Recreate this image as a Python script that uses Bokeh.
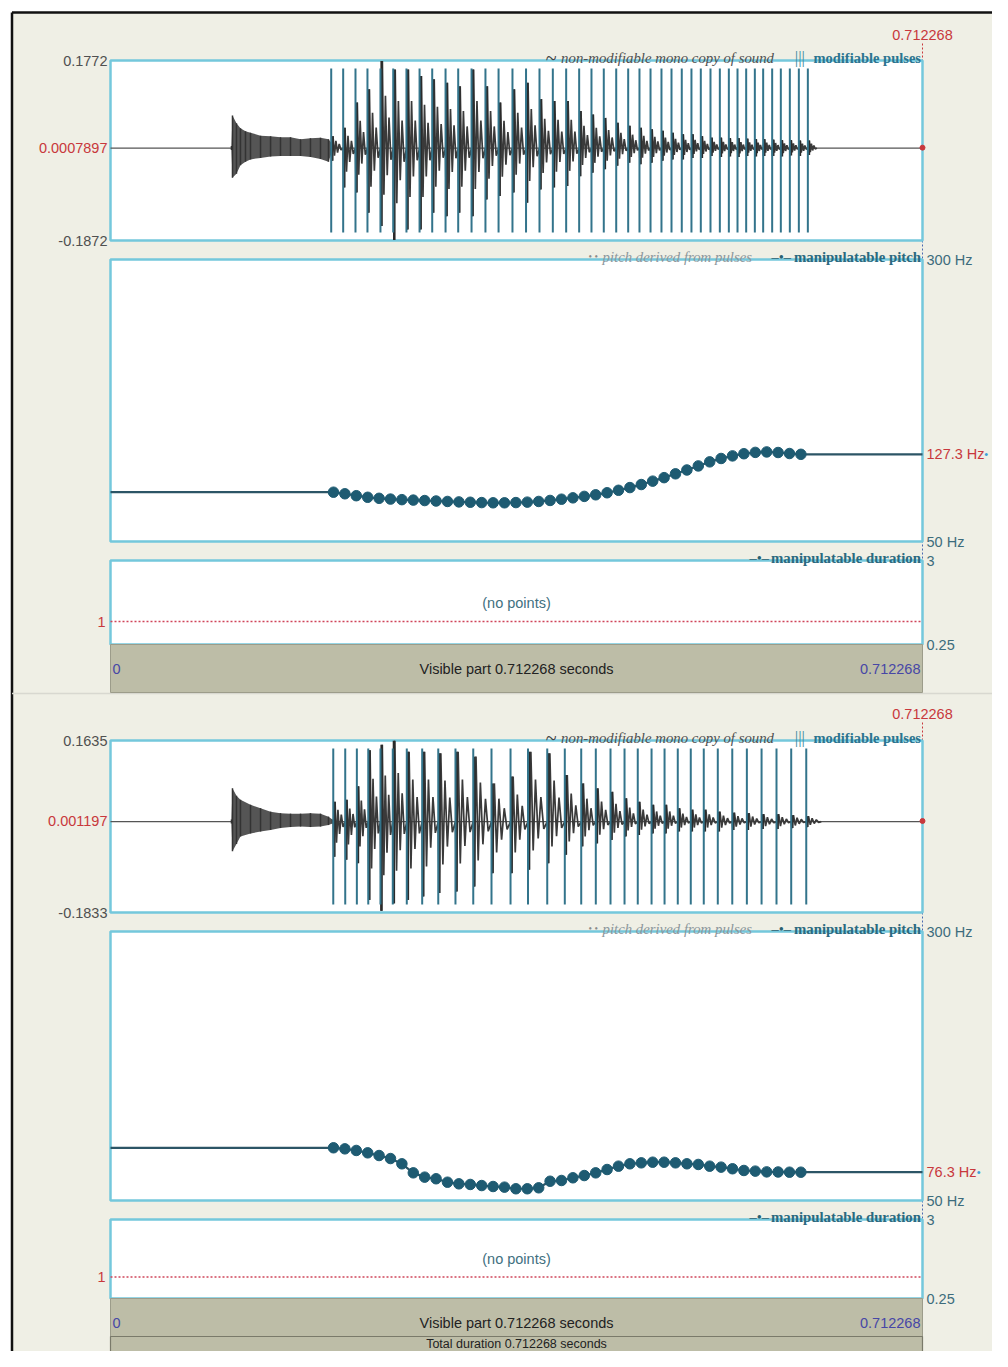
from bokeh.plotting import figure
from bokeh.models import Range1d
from bokeh.core.properties import value
from bokeh.embed import file_html
from bokeh.resources import INLINE

# ---------------- data ----------------
TOTAL = 0.712268          # seconds, visible part / total duration
CURSOR = 0.712268

wave1_ticks = [0.1772, 0.0007897, -0.1872]   # top, cursor value, bottom
wave2_ticks = [0.1635, 0.001197, -0.1833]
pitch_ticks = [300, 50]                       # Hz, top / bottom
dur_ticks = [3, 0.25]
dur_line = 1
pitch1_label = 127.3
pitch2_label = 76.3

# noise burst before voicing (envelope: time s, max, min)
burst1_t = [0.1061, 0.1070, 0.1105, 0.1140, 0.1184, 0.1228, 0.1316, 0.1404, 0.1491,
            0.1579, 0.1667, 0.1754, 0.1842, 0.1912, 0.1939]
burst1_hi = [0.004, 0.066, 0.050, 0.040, 0.034, 0.031, 0.025, 0.024, 0.022,
             0.022, 0.018, 0.020, 0.021, 0.018, 0.010]
burst1_lo = [-0.004, -0.060, -0.052, -0.035, -0.028, -0.023, -0.020, -0.017, -0.016,
             -0.016, -0.016, -0.018, -0.022, -0.028, -0.010]

burst2_t = [0.1061, 0.1070, 0.1105, 0.1140, 0.1228, 0.1316, 0.1404, 0.1491,
            0.1579, 0.1667, 0.1754, 0.1842, 0.1912, 0.1947]
burst2_hi = [0.004, 0.067, 0.052, 0.044, 0.034, 0.027, 0.020, 0.017,
             0.016, 0.016, 0.017, 0.016, 0.010, 0.004]
burst2_lo = [-0.004, -0.060, -0.045, -0.030, -0.024, -0.020, -0.017, -0.013,
             -0.011, -0.010, -0.011, -0.010, -0.007, -0.004]

# modifiable pulses (time s) with the waveform's max / min around each pulse
pulse1_t = [0.1936, 0.2041, 0.2149, 0.2254, 0.2368, 0.2480, 0.2596, 0.2711, 0.2822, 0.2939,
            0.3050, 0.3167, 0.3289, 0.3404, 0.3526, 0.3645, 0.3763, 0.3880, 0.3997, 0.4111,
            0.4219, 0.4327, 0.4436, 0.4541, 0.4640, 0.4737, 0.4833, 0.4921, 0.5011, 0.5096,
            0.5178, 0.5263, 0.5345, 0.5424, 0.5500, 0.5576, 0.5652, 0.5725, 0.5804, 0.5880,
            0.5959, 0.6038, 0.6117]
pulse1_hi = [0.024, 0.041, 0.092, 0.119, 0.176, 0.159, 0.159, 0.146, 0.139, 0.132,
             0.125, 0.159, 0.125, 0.092, 0.119, 0.132, 0.099, 0.095, 0.095, 0.075,
             0.068, 0.061, 0.051, 0.045, 0.041, 0.038, 0.035, 0.031, 0.028, 0.028,
             0.024, 0.021, 0.021, 0.020, 0.020, 0.019, 0.018, 0.018, 0.017, 0.016,
             0.016, 0.015, 0.015]
pulse1_lo = [-0.026, -0.080, -0.090, -0.131, -0.158, -0.186, -0.165, -0.165, -0.131, -0.138,
             -0.131, -0.138, -0.104, -0.097, -0.090, -0.111, -0.084, -0.080, -0.077, -0.057,
             -0.050, -0.043, -0.036, -0.030, -0.033, -0.030, -0.026, -0.023, -0.023, -0.020,
             -0.020, -0.016, -0.018, -0.017, -0.018, -0.016, -0.017, -0.016, -0.016, -0.017,
             -0.015, -0.016, -0.014]

pulse2_t = [0.1954, 0.2059, 0.2161, 0.2261, 0.2368, 0.2476, 0.2599, 0.2734, 0.2875, 0.3026,
            0.3182, 0.3342, 0.3509, 0.3662, 0.3831, 0.3985, 0.4129, 0.4257, 0.4386, 0.4509,
            0.4625, 0.4746, 0.4860, 0.4976, 0.5090, 0.5204, 0.5327, 0.5454, 0.5582, 0.5711,
            0.5842, 0.5971, 0.6103]
pulse2_hi = [0.040, 0.044, 0.071, 0.144, 0.155, 0.163, 0.141, 0.141, 0.138, 0.141,
             0.131, 0.077, 0.091, 0.141, 0.138, 0.094, 0.077, 0.067, 0.060, 0.047,
             0.040, 0.034, 0.034, 0.027, 0.024, 0.024, 0.020, 0.018, 0.017, 0.015,
             0.015, 0.013, 0.011]
pulse2_lo = [-0.071, -0.077, -0.084, -0.158, -0.180, -0.165, -0.158, -0.151, -0.144, -0.141,
             -0.131, -0.104, -0.104, -0.097, -0.084, -0.067, -0.050, -0.044, -0.037, -0.030,
             -0.027, -0.024, -0.024, -0.020, -0.020, -0.020, -0.020, -0.017, -0.017, -0.015,
             -0.015, -0.013, -0.011]

# manipulatable pitch points (every 10 ms)
pitch_t = [0.1956, 0.2056, 0.2156, 0.2256, 0.2356, 0.2456, 0.2556, 0.2656, 0.2756, 0.2856,
           0.2956, 0.3056, 0.3156, 0.3256, 0.3356, 0.3456, 0.3556, 0.3656, 0.3756, 0.3856,
           0.3956, 0.4056, 0.4156, 0.4256, 0.4356, 0.4456, 0.4556, 0.4656, 0.4756, 0.4856,
           0.4956, 0.5056, 0.5156, 0.5256, 0.5356, 0.5456, 0.5556, 0.5656, 0.5756, 0.5856,
           0.5956, 0.6056]
pitch1_hz = [93.7, 92.3, 90.6, 89.2, 88.3, 87.6, 87.1, 86.7, 86.3, 85.9,
             85.5, 85.1, 84.8, 84.5, 84.3, 84.3, 84.5, 84.9, 85.5, 86.4,
             87.5, 88.7, 90.0, 91.4, 93.2, 95.4, 97.8, 100.5, 103.5, 106.6,
             110.0, 113.4, 117.0, 120.6, 123.6, 125.9, 127.8, 129.0, 129.4, 128.9,
             128.0, 127.3]
pitch2_hz = [99.0, 98.0, 96.5, 94.3, 91.8, 89.0, 84.1, 75.7, 71.7, 70.2,
             67.0, 65.5, 64.9, 63.9, 63.0, 62.4, 60.9, 60.9, 61.8, 67.9,
             68.6, 71.1, 73.2, 75.7, 78.8, 81.9, 84.1, 85.0, 85.6, 85.6,
             85.0, 84.1, 83.5, 81.9, 81.0, 79.5, 77.9, 77.3, 76.6, 76.5,
             76.3, 76.3]

# ---------------- layout (reference pixel positions) ----------------
W, H = 992, 1351
PX_L, PX_R = 110, 922
LAYOUT = [
    dict(cur_y=34, wave=(60, 240), pitch=(259, 541), dur=(560, 644), bar=(644, 692)),
    dict(cur_y=713, wave=(740, 912), pitch=(931, 1200), dur=(1219, 1298), bar=(1298, 1336)),
]
# shape of the drawn oscillation within one pitch period (style only)
RING_FR = [0.0, 0.05, 0.15, 0.27, 0.39, 0.53, 0.67, 0.82]
RING_GAIN = [0.0, 1.0, 1.0, 0.6, 0.6, 0.35, 0.35, 0.15]

SANS = value("Liberation Sans")
SERIF = value("Liberation Serif")
BG = "#efefe5"
CYAN = "#74c8dc"
TEAL = "#33748b"
RED = "#c8383c"
BLUE = "#4747a6"
LBL = "#3d6c7c"
BAR = "#bdbda7"

spp = TOTAL / (PX_R - PX_L)
t_range = Range1d(-PX_L * spp, TOTAL + (W - PX_R) * spp)


def band(top, bot, vtop, vbot):
    s = (vtop - vbot) / (bot - top)
    return Range1d(vbot - (H - bot) * s, vtop + top * s)


editors = [
    dict(wave=wave1_ticks, bt=burst1_t, bh=burst1_hi, bl=burst1_lo,
         pt=pulse1_t, ph=pulse1_hi, pl=pulse1_lo, hz=pitch1_hz, lab=pitch1_label),
    dict(wave=wave2_ticks, bt=burst2_t, bh=burst2_hi, bl=burst2_lo,
         pt=pulse2_t, ph=pulse2_hi, pl=pulse2_lo, hz=pitch2_hz, lab=pitch2_label),
]

yranges = {}
for i, (L, E) in enumerate(zip(LAYOUT, editors)):
    yranges[f"w{i}"] = band(L["wave"][0], L["wave"][1], E["wave"][0], E["wave"][2])
    yranges[f"p{i}"] = band(L["pitch"][0], L["pitch"][1], pitch_ticks[0], pitch_ticks[1])
    yranges[f"d{i}"] = band(L["dur"][0], L["dur"][1], dur_ticks[0], dur_ticks[1])

p = figure(width=W, height=H, x_range=Range1d(0, W), y_range=Range1d(H, 0),
           x_axis_location=None, y_axis_location=None, toolbar_location=None,
           output_backend="svg", min_border=0, title=None)
p.outline_line_color = None
p.background_fill_color = "white"
p.border_fill_color = "white"
p.xgrid.visible = False
p.ygrid.visible = False
p.extra_x_ranges = {"t": t_range}
p.extra_y_ranges = yranges


def txt(x, y, s, color, size=14.5, font=SANS, align="left", baseline="middle",
        style="normal", xr="default", yr="default", xoff=0):
    p.text(x=[x], y=[y], text=[s], text_color=color, text_font=font,
           text_font_size=f"{size}px", text_align=align, text_baseline=baseline,
           text_font_style=style, x_offset=xoff, x_range_name=xr, y_range_name=yr)


def ringing(pt, ph, pl):
    xs, ys = [], []
    for k, t0 in enumerate(pt):
        per = (pt[k + 1] - t0) if k + 1 < len(pt) else (t0 - pt[k - 1])
        for fr, g in zip(RING_FR, RING_GAIN):
            amp = pl[k] if len(ys) % 2 == 1 else ph[k]
            xs.append(t0 + fr * per)
            ys.append(g * amp)
    xs.append(pt[-1] + (pt[-1] - pt[-2]))
    ys.append(0.0)
    return xs, ys


# page background and frame
p.quad(left=11.5, right=W, top=12, bottom=H, fill_color=BG, line_color=None)
p.segment(x0=[11.5, 11.5], y0=[12, 12], x1=[W, 11.5], y1=[12, H],
          line_color="#111111", line_width=2.5)
p.segment(x0=[11.5], y0=[693], x1=[W], y1=[693], line_color="#d8d8d0", line_width=1.5)

for i, (L, E) in enumerate(zip(LAYOUT, editors)):
    wn, pn, dn = f"w{i}", f"p{i}", f"d{i}"
    wt, wb = L["wave"]
    ptop, pbot = L["pitch"]
    dt, db = L["dur"]
    bt, bb = L["bar"]
    hdr = [wt - 3, ptop - 3, dt - 3]
    end_y = bb if i == 0 else H

    # cursor
    p.segment(x0=[CURSOR], y0=[L["cur_y"] + 9], x1=[CURSOR], y1=[wt], line_color=RED,
              line_width=1, line_dash="2 2", x_range_name="t")
    p.segment(x0=[CURSOR], y0=[wt], x1=[CURSOR], y1=[end_y], line_color="#4a6ab0",
              line_width=1, line_dash="2 2", x_range_name="t")
    txt(CURSOR, L["cur_y"], f"{CURSOR:g}", RED, align="center", xr="t")

    # panels
    v = E["wave"]
    p.quad(left=0, right=TOTAL, top=v[0], bottom=v[2], fill_color="white",
           line_color=CYAN, line_width=2.5, x_range_name="t", y_range_name=wn)
    p.quad(left=0, right=TOTAL, top=pitch_ticks[0], bottom=pitch_ticks[1], fill_color="white",
           line_color=CYAN, line_width=2.5, x_range_name="t", y_range_name=pn)
    p.quad(left=0, right=TOTAL, top=dur_ticks[0], bottom=dur_ticks[1], fill_color="white",
           line_color=CYAN, line_width=2.5, x_range_name="t", y_range_name=dn)

    # gray bars
    p.quad(left=0, right=TOTAL, top=bt, bottom=bb, fill_color=BAR, line_color="#9c9c8a",
           line_width=1, x_range_name="t")
    if i == 1:
        p.quad(left=0, right=TOTAL, top=bb, bottom=H + 10, fill_color=BAR,
               line_color="#7a7a6a", line_width=1.2, x_range_name="t")
        txt(TOTAL / 2, bb + 7.5, f"Total duration {TOTAL:g} seconds", "#222222",
            size=12.5, align="center", xr="t")

    # waveform
    p.line(x=[0, TOTAL], y=[0, 0], line_color="#555555", line_width=1.2,
           x_range_name="t", y_range_name=wn)
    p.varea(x=E["bt"], y1=E["bl"], y2=E["bh"], fill_color="#555555",
            x_range_name="t", y_range_name=wn)
    p.segment(x0=E["bt"], y0=E["bl"], x1=E["bt"], y1=E["bh"], line_color="#333333",
              line_width=1.5, x_range_name="t", y_range_name=wn)
    rx, ry = ringing(E["pt"], E["ph"], E["pl"])
    p.line(x=rx, y=ry, line_color="#3a3a3a", line_width=1.7, x_range_name="t", y_range_name=wn)
    p.segment(x0=[t + 0.001 for t in E["pt"]], y0=E["pl"],
              x1=[t + 0.001 for t in E["pt"]], y1=E["ph"],
              line_color="#2a2a2a", line_width=2.4, x_range_name="t", y_range_name=wn)
    m = (v[0] - v[2]) * 8 / (wb - wt)
    p.segment(x0=E["pt"], y0=[v[2] + m] * len(E["pt"]), x1=E["pt"],
              y1=[v[0] - m] * len(E["pt"]), line_color=TEAL, line_width=2,
              x_range_name="t", y_range_name=wn)
    p.scatter(x=[CURSOR], y=[v[1]], size=5, color=RED, x_range_name="t", y_range_name=wn)

    # pitch
    xs = [0] + pitch_t + [TOTAL]
    ys = [E["hz"][0]] + E["hz"] + [E["hz"][-1]]
    p.line(x=xs, y=ys, line_color="#2c5566", line_width=2.2, x_range_name="t", y_range_name=pn)
    p.scatter(x=pitch_t, y=E["hz"], size=10.5, fill_color="#1e5b72", line_color="#1e5b72",
              x_range_name="t", y_range_name=pn)

    # duration
    p.line(x=[0, TOTAL], y=[dur_line, dur_line], line_color="#d0455a", line_width=1.5,
           line_dash="2 2", x_range_name="t", y_range_name=dn)
    txt(TOTAL / 2, (dt + db) / 2, "(no points)", "#41707f", align="center", xr="t")

    # left labels
    txt(0, v[0], f"{v[0]:g}", "#505050", align="right", xoff=-3, xr="t", yr=wn)
    txt(0, v[1], f"{v[1]:.7g}", RED, align="right", xoff=-3, xr="t", yr=wn)
    txt(0, v[2], f"{v[2]:g}", "#505050", align="right", xoff=-3, xr="t", yr=wn)
    txt(0, dur_line, f"{dur_line:g}", RED, align="right", xoff=-5, xr="t", yr=dn)

    # right labels
    lab = f"{E['lab']:g} Hz"
    txt(TOTAL, pitch_ticks[0], f"{pitch_ticks[0]:g} Hz", LBL, xoff=4, xr="t", yr=pn)
    txt(TOTAL, pitch_ticks[1], f"{pitch_ticks[1]:g} Hz", LBL, xoff=4, xr="t", yr=pn)
    txt(TOTAL, E["lab"], lab, RED, xoff=4, xr="t", yr=pn)
    txt(TOTAL, E["lab"], "\u2022", "#3aa0d8", size=11, xoff=1 + 7.6 * len(lab), xr="t", yr=pn)
    txt(TOTAL, dur_ticks[0], f"{dur_ticks[0]:g}", LBL, xoff=4, xr="t", yr=dn)
    txt(TOTAL, dur_ticks[1], f"{dur_ticks[1]:g}", LBL, xoff=4, xr="t", yr=dn)

    # bar texts
    txt(0, bt + 24, "0", BLUE, xoff=2, xr="t")
    txt(TOTAL / 2, bt + 24, f"Visible part {TOTAL:g} seconds", "#222222", align="center", xr="t")
    txt(TOTAL, bt + 24, f"{TOTAL:g}", BLUE, align="right", xoff=-2, xr="t")

    # headers (serif, right aligned pieces)
    H1 = [("modifiable pulses", 920.5, "bold", "#2b7590", 14.5),
          ("|||", 804.5, "normal", "#3a8aa0", 17),
          ("non-modifiable mono copy of sound", 773.5, "italic", "#505050", 14.8),
          ("~", 556, "normal", "#404040", 20)]
    H2 = [("manipulatable pitch", 920.5, "bold", "#2a6a80", 14.8),
          ("\u2013\u2022\u2013", 790.5, "normal", "#2a6070", 14.5),
          ("pitch derived from pulses", 751.5, "italic", "#8c979c", 14.8),
          ("\u2022 \u2022", 597.5, "normal", "#8a8a8a", 10)]
    H3 = [("manipulatable duration", 920.5, "bold", "#2a6a80", 14.8),
          ("\u2013\u2022\u2013", 768.5, "normal", "#2a6070", 14.5)]
    for pieces, hy in zip([H1, H2, H3], hdr):
        for s, xr_, st, col, sz in pieces:
            txt(xr_, hy, s, col, size=sz, font=SERIF, align="right",
                baseline="alphabetic", style=st)

open("out.html", "w").write(file_html(p, INLINE))
